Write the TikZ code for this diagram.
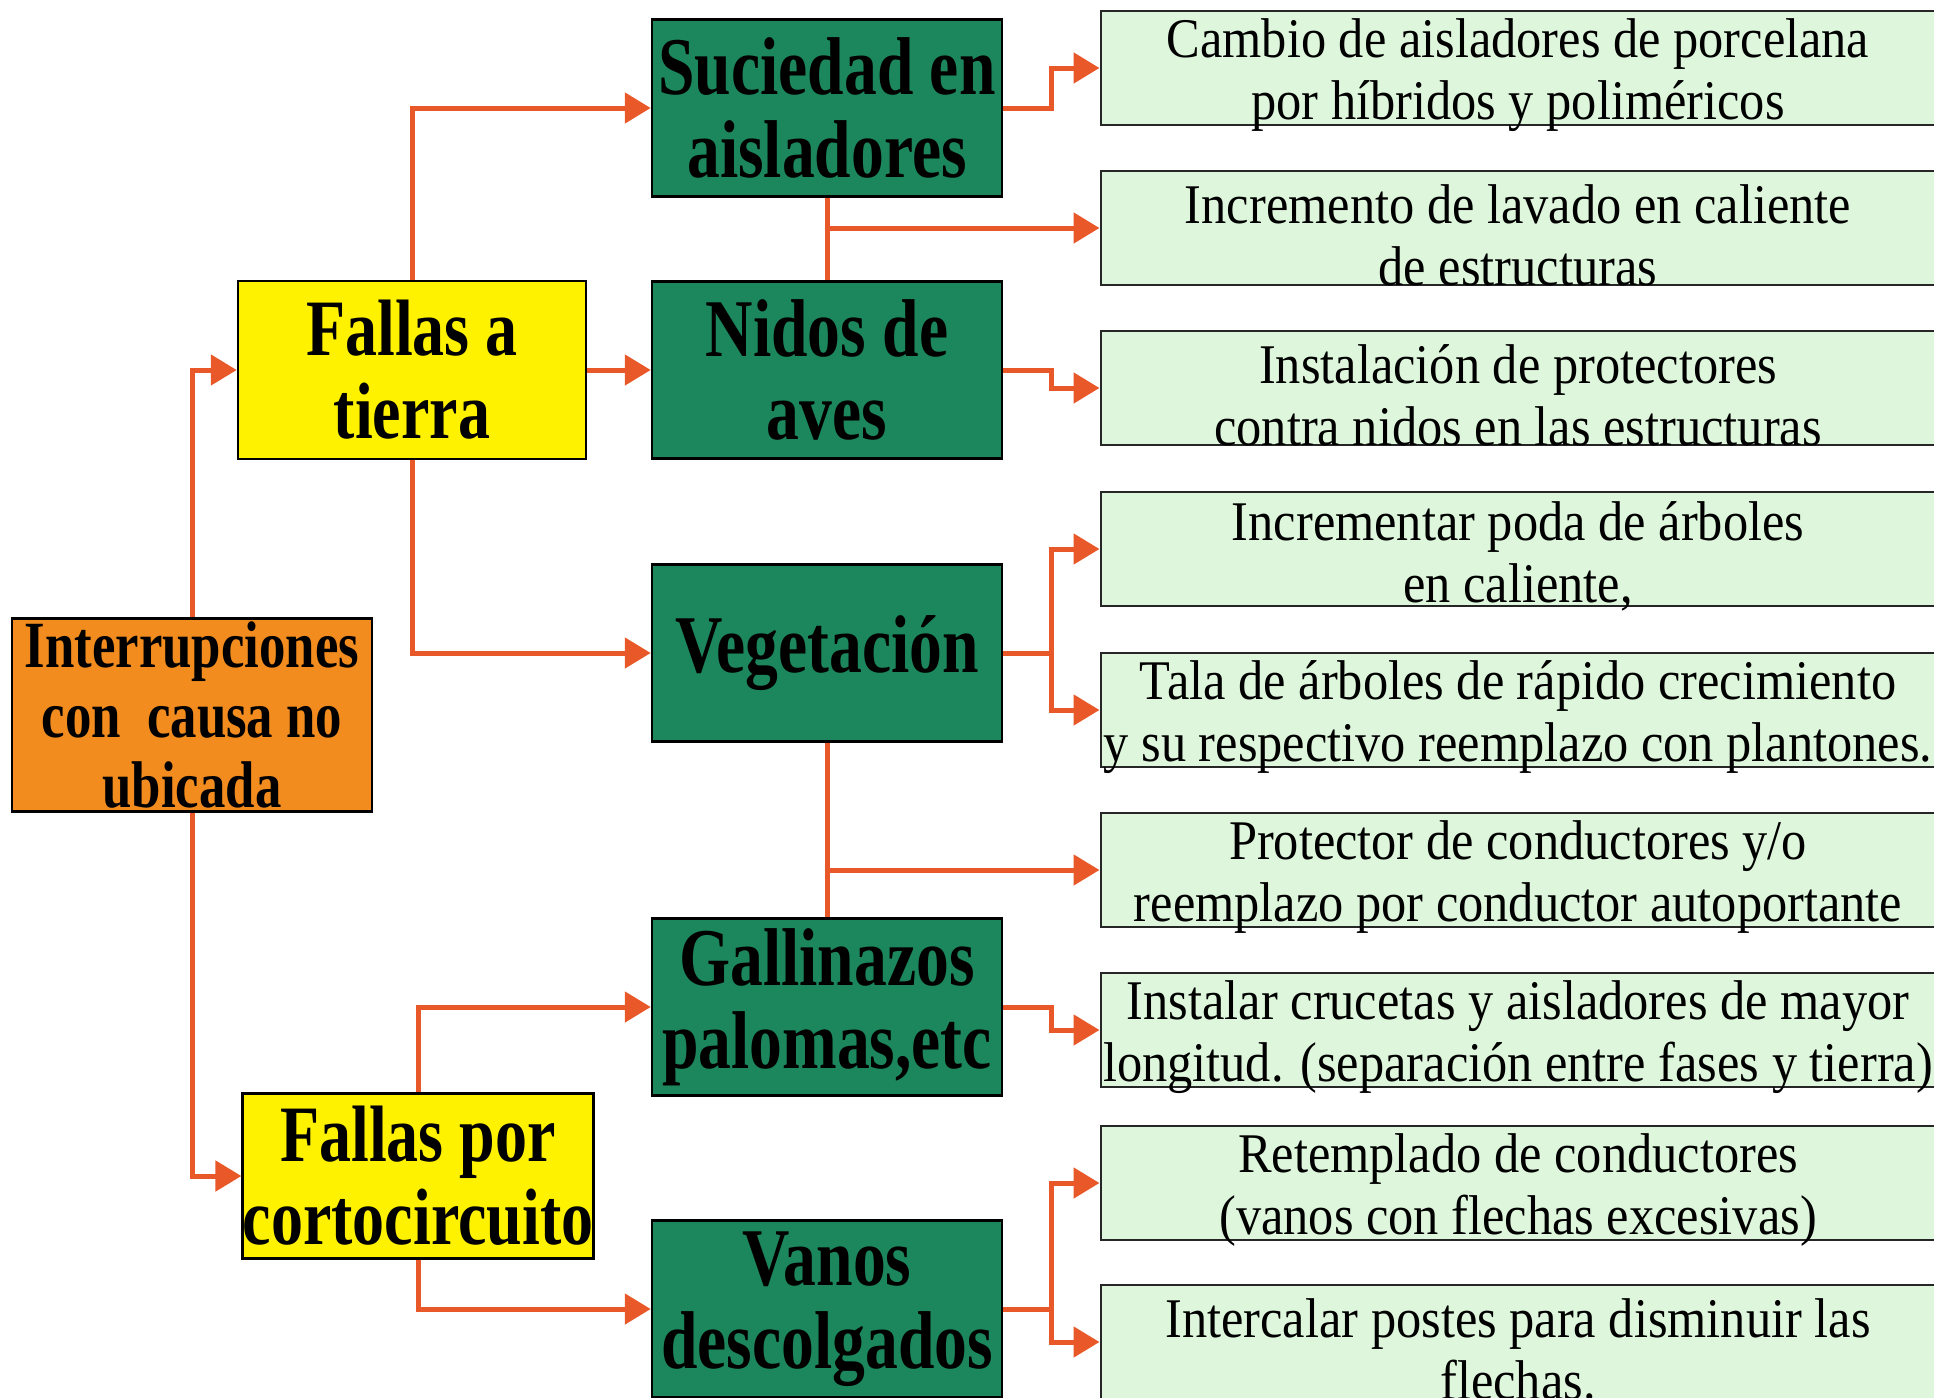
\documentclass[tikz,border=0pt]{standalone}
\usepackage{fontspec}
\setmainfont{Liberation Serif}
\newfontfamily\condfont[FakeStretch=0.9]{Liberation Serif}
\newfontfamily\heavyfont[FakeStretch=0.8]{Liberation Serif}
\usetikzlibrary{arrows.meta}

\definecolor{arrowred}{RGB}{232,88,40}
\definecolor{boxorange}{RGB}{243,140,30}
\definecolor{boxgreen}{RGB}{28,134,92}
\definecolor{boxmint}{RGB}{222,246,220}

\tikzset{
  kbox/.style={draw=black, line width=2.5pt, align=center, inner sep=0pt},
  causa/.style={kbox, fill=boxorange, minimum width=360pt, minimum height=193pt,
    font=\heavyfont\bfseries\fontsize{66}{70}\selectfont},
  falla/.style={kbox, fill=yellow, minimum width=348pt, minimum height=178pt,
    font=\heavyfont\bfseries\fontsize{80}{83}\selectfont},
  motivo/.style={kbox, fill=boxgreen, minimum width=350pt, minimum height=177pt,
    font=\heavyfont\bfseries\fontsize{82}{83}\selectfont},
  accion/.style={draw=black!85, line width=2pt, fill=boxmint,
    minimum width=835pt, minimum height=114pt, inner sep=0pt},
  acciontxt/.style={align=center, inner sep=0pt,
    font=\condfont\fontsize{56}{62}\selectfont},
  tronco/.style={draw=arrowred, line width=5pt},
  flecha/.style={tronco, -{Triangle[length=26pt,width=30pt]}},
}

\begin{document}
\begin{tikzpicture}[x=1pt,y=-1pt]
  \useasboundingbox (0,0) rectangle (1934,1397);
  \clip (0,0) rectangle (1934,1397);

  % causas
  \node[causa] (intr) at (192,715) {Interrupciones\\con~~causa no\\ubicada};
  \node[falla] (fat) at (412,370) {Fallas a\\tierra};
  \node[falla, minimum width=350pt, minimum height=165pt] (fcc) at (418,1176) {Fallas por\\cortocircuito};

  % motivos
  \node[motivo] (suc) at (827,108) {Suciedad en\\aisladores};
  \node[motivo] (nid) at (827,370) {Nidos de\\aves};
  \node[motivo] (veg) at (827,653) {Vegetación};
  \node[motivo] (gal) at (827,1007) {Gallinazos\\palomas,etc};
  \node[motivo] (van) at (827,1309) {Vanos\\descolgados};

  % acciones
  \node[accion] (a1) at (1518,68) {};
  \node[accion] (a2) at (1518,228) {};
  \node[accion] (a3) at (1518,388) {};
  \node[accion] (a4) at (1518,549) {};
  \node[accion] (a5) at (1518,710) {};
  \node[accion] (a6) at (1518,870) {};
  \node[accion] (a7) at (1518,1030) {};
  \node[accion] (a8) at (1518,1183) {};
  \node[accion] (a9) at (1518,1342) {};
  \node[acciontxt] (t1) at ([yshift=-7pt]a1.center) {Cambio de aisladores de porcelana\\por híbridos y poliméricos};
  \node[acciontxt] (t2) at ([yshift=-7pt]a2.center) {Incremento de lavado en caliente\\de estructuras};
  \node[acciontxt] (t3) at ([yshift=-7pt]a3.center) {Instalación de protectores\\contra nidos en las estructuras};
  \node[acciontxt] (t4) at ([yshift=-7pt]a4.center) {Incrementar poda de árboles\\en caliente,};
  \node[acciontxt] (t5) at ([yshift=-7pt]a5.center) {Tala de árboles de rápido crecimiento\\y su respectivo reemplazo con plantones.};
  \node[acciontxt] (t6) at ([yshift=-7pt]a6.center) {Protector de conductores y/o\\reemplazo por conductor autoportante};
  \node[acciontxt] (t7) at ([yshift=-7pt]a7.center) {Instalar crucetas y aisladores de mayor\\longitud. (separación entre fases y tierra)};
  \node[acciontxt] (t8) at ([yshift=-7pt]a8.center) {Retemplado de conductores\\(vanos con flechas excesivas)};
  \node[acciontxt] (t9) at ([yshift=-7pt]a9.center) {Intercalar postes para disminuir las\\flechas.};

  % flechas
  \draw[flecha] (intr.north) |- (fat.west);
  \draw[flecha] (intr.south) |- (fcc.west);
  \draw[flecha] (fat.north) |- (suc.west);
  \draw[flecha] (fat.east) -- (nid.west);
  \draw[flecha] (fat.south) |- (veg.west);
  \draw[flecha] (fcc.north) |- (gal.west);
  \draw[flecha] (fcc.south) |- (van.west);

  \draw[flecha] (suc.east) -- ++(48,0) |- (a1.west);
  \draw[tronco] (suc.south) -- (nid.north);
  \draw[flecha] (suc.south |- a2.west) -- (a2.west);
  \draw[flecha] (nid.east) -- ++(48,0) |- (a3.west);
  \draw[flecha] (veg.east) -- ++(48,0) |- (a4.west);
  \draw[flecha] (veg.east) -- ++(48,0) |- (a5.west);
  \draw[tronco] (veg.south) -- (gal.north);
  \draw[flecha] (veg.south |- a6.west) -- (a6.west);
  \draw[flecha] (gal.east) -- ++(48,0) |- (a7.west);
  \draw[flecha] (van.east) -- ++(48,0) |- (a8.west);
  \draw[flecha] (van.east) -- ++(48,0) |- (a9.west);
\end{tikzpicture}
\end{document}
